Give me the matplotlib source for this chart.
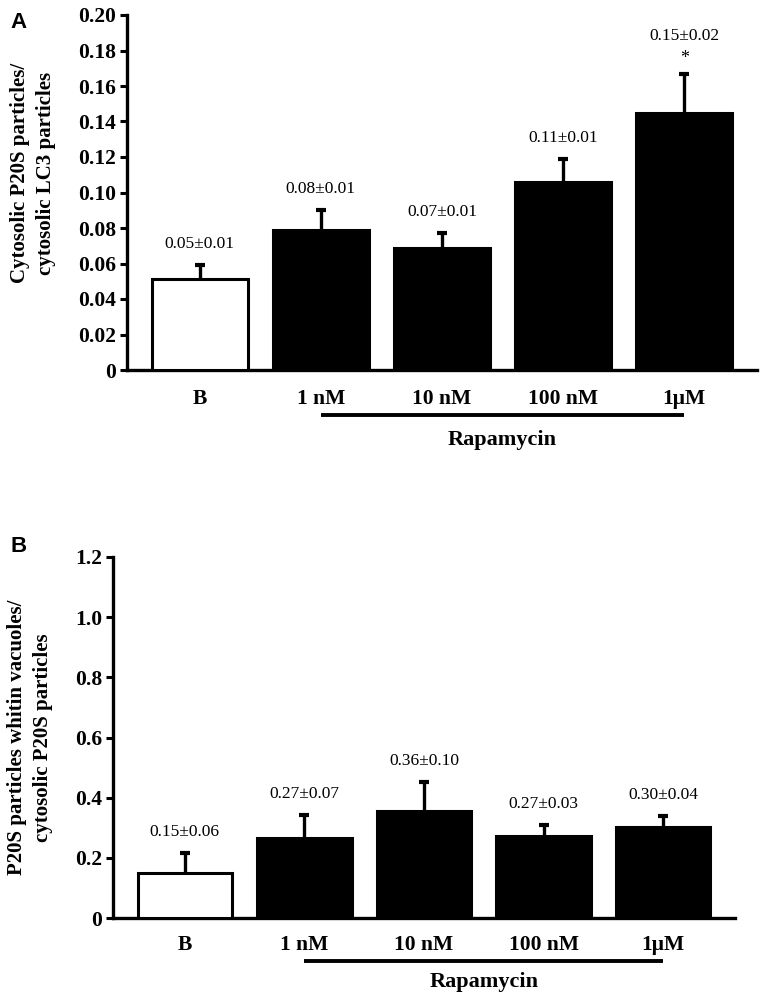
import matplotlib
matplotlib.use('Agg')
import matplotlib.pyplot as plt
import matplotlib.transforms as mtransforms
from matplotlib.ticker import FuncFormatter

# Dados
grupos = ['B', '1 nM', '10 nM', '100 nM', '1\u03bcM']
rapamicina = ['1 nM', '10 nM', '100 nM', '1\u03bcM']

valores_a = [0.051, 0.079, 0.069, 0.106, 0.145]
erros_a = [0.008, 0.011, 0.008, 0.013, 0.022]
rotulos_a = ['0.05\u00b10.01', '0.08\u00b10.01', '0.07\u00b10.01', '0.11\u00b10.01', '0.15\u00b10.02']
signif_a = ['', '', '', '', '*']
ticks_a = [0, 0.02, 0.04, 0.06, 0.08, 0.10, 0.12, 0.14, 0.16, 0.18, 0.20]

valores_b = [0.150, 0.266, 0.356, 0.273, 0.303]
erros_b = [0.066, 0.076, 0.096, 0.036, 0.036]
rotulos_b = ['0.15\u00b10.06', '0.27\u00b10.07', '0.36\u00b10.10', '0.27\u00b10.03', '0.30\u00b10.04']
signif_b = ['', '', '', '', '']
ticks_b = [0, 0.2, 0.4, 0.6, 0.8, 1.0, 1.2]

serif = 'Liberation Serif'

fig = plt.figure(figsize=(7.62, 10), dpi=100)


def painel(ax, valores, erros, rotulos, signif, ticks, casas, ylabel, label_y,
           xpad, linha_y, texto_y):
    x = list(range(len(grupos)))
    cores = ['white'] + ['black'] * (len(grupos) - 1)
    ax.bar(x, valores, width=0.79, color=cores, edgecolor='black', linewidth=2.2, zorder=3)
    # so a barra de cima (sem cap embaixo)
    eb = ax.errorbar(x, valores, yerr=[[0] * len(erros), erros], fmt='none', ecolor='black',
                     elinewidth=2.4, capsize=3.5, capthick=3, zorder=2)
    for cap in eb[1]:
        if list(cap.get_ydata()) == list(valores):
            cap.set_visible(False)
    for xi, v, e, r, s in zip(x, valores, erros, rotulos, signif):
        if s:
            ax.annotate(s, (xi, v + e), xytext=(0, 11), textcoords='offset points',
                        ha='center', va='center', fontsize=13, family=serif)
            ax.annotate(r, (xi, v + e), xytext=(0, 27), textcoords='offset points',
                        ha='center', va='center', fontsize=12.5, family=serif)
        else:
            ax.annotate(r, (xi, v + e), xytext=(0, 15), textcoords='offset points',
                        ha='center', va='center', fontsize=12.5, family=serif)

    ax.set_xlim(-0.6, 4.6)
    ax.set_ylim(ticks[0], ticks[-1])
    ax.set_yticks(ticks)
    ax.yaxis.set_major_formatter(FuncFormatter(lambda v, p: '0' if v == 0 else f'{v:.{casas}f}'))
    ax.set_xticks(x)
    ax.set_xticklabels(grupos)
    ax.tick_params(axis='x', length=0, pad=xpad)
    ax.tick_params(axis='y', length=5, width=2.2, pad=3, direction='out')
    for t in ax.get_xticklabels() + ax.get_yticklabels():
        t.set_family(serif)
        t.set_fontweight('bold')
        t.set_fontsize(15.5)
    for lado in ['top', 'right']:
        ax.spines[lado].set_visible(False)
    for lado in ['left', 'bottom']:
        ax.spines[lado].set_linewidth(2.4)

    ax.set_ylabel(ylabel, family=serif, fontweight='bold', fontsize=15, linespacing=1.4)
    ax.yaxis.set_label_coords(*label_y)

    # linha da rapamicina
    trans = mtransforms.blended_transform_factory(ax.transData, ax.transAxes)
    ini = grupos.index(rapamicina[0])
    fim = grupos.index(rapamicina[-1])
    ax.plot([ini, fim], [linha_y, linha_y], color='black', lw=2.8, transform=trans,
            clip_on=False, solid_capstyle='butt')
    ax.text((ini + fim) / 2, texto_y, 'Rapamycin', transform=trans, ha='center', va='center',
            family=serif, fontweight='bold', fontsize=16)


ax1 = fig.add_axes([127 / 762, 0.630, 630 / 762, 0.355])
painel(ax1, valores_a, erros_a, rotulos_a, signif_a, ticks_a, 2,
       'Cytosolic P20S particles/\ncytosolic LC3 particles', (-0.113, 0.555),
       14, -0.127, -0.197)

ax2 = fig.add_axes([113 / 762, 0.082, 622 / 762, 0.361])
painel(ax2, valores_b, erros_b, rotulos_b, signif_b, ticks_b, 1,
       'P20S particles whitin vacuoles/\ncytosolic P20S particles', (-0.097, 0.5),
       12, -0.119, -0.177)

fig.text(10 / 762, 1 - 22 / 1000, 'A', family='Liberation Sans', fontweight='bold',
         fontsize=16, va='center', ha='left')
fig.text(11 / 762, 1 - 547 / 1000, 'B', family='Liberation Sans', fontweight='bold',
         fontsize=16, va='center', ha='left')

plt.savefig('out.png', dpi=100)
